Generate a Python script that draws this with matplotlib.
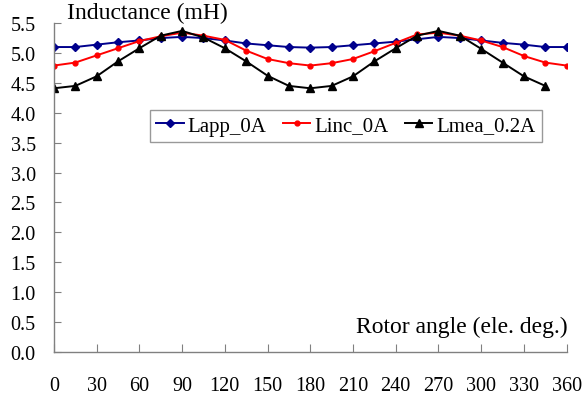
import numpy as np
import matplotlib
matplotlib.use("Agg")
import matplotlib.pyplot as plt

### data
angle = np.arange(0, 361, 15)
angle_mea = np.arange(0, 346, 15)

lapp_0A = [5.10, 5.10, 5.14, 5.18, 5.21, 5.25, 5.27, 5.25, 5.21, 5.16, 5.13, 5.10, 5.09,
           5.10, 5.13, 5.16, 5.19, 5.23, 5.27, 5.25, 5.21, 5.17, 5.14, 5.10, 5.10]
linc_0A = [4.79, 4.84, 4.96, 5.08, 5.20, 5.28, 5.34, 5.29, 5.22, 5.04, 4.90, 4.83, 4.79,
           4.83, 4.90, 5.03, 5.17, 5.31, 5.34, 5.29, 5.21, 5.10, 4.95, 4.84, 4.79]
lmea_02A = [4.41, 4.45, 4.61, 4.86, 5.08, 5.29, 5.37, 5.26, 5.08, 4.86, 4.62, 4.45, 4.41,
            4.45, 4.61, 4.86, 5.08, 5.29, 5.37, 5.29, 5.07, 4.84, 4.61, 4.45]

xticks = np.arange(0, 361, 30)
yticks = np.arange(0, 5.51, 0.5)

plt.rcParams['font.family'] = ['Liberation Serif', 'DejaVu Serif']

fig = plt.figure(figsize=(5.86, 4.02), dpi=100)
ax = fig.add_axes([0.092, 0.122, 0.875, 0.818])

ax.plot(angle, lapp_0A, color='#00008c', marker='D', markersize=4.2, lw=1.4, label='Lapp_0A')
ax.plot(angle, linc_0A, color='red', marker='o', markersize=3.5, lw=1.4, label='Linc_0A')
ax.plot(angle_mea, lmea_02A, color='black', marker='^', markersize=5.5, lw=1.4, label='Lmea_0.2A')

ax.set_xlim(0, 360)
ax.set_ylim(0, 5.5)
ax.set_xticks(xticks)
ax.set_yticks(yticks)
ax.set_yticklabels(['%.1f' % v for v in yticks])

for s in ['top', 'right']:
    ax.spines[s].set_visible(False)
for s in ['left', 'bottom']:
    ax.spines[s].set_color('#808080')
    ax.spines[s].set_linewidth(1.0)

ax.tick_params(axis='x', direction='in', length=6, color='#808080', labelsize=14.5, pad=17)
ax.tick_params(axis='y', direction='in', length=5, color='#808080', labelsize=14.5, pad=13)

leg = ax.legend(loc='center', bbox_to_anchor=(0.57, 0.688), ncol=3, fontsize=15,
                frameon=True, fancybox=False, handlelength=1.3, handletextpad=0.2,
                columnspacing=0.8, borderpad=0.3)
leg.get_frame().set_edgecolor('#808080')
leg.get_frame().set_linewidth(1.0)

fig.text(0.114, 0.967, 'Inductance (mH)', fontsize=17, ha='left', va='center')
fig.text(0.968, 0.185, 'Rotor angle (ele. deg.)', fontsize=17, ha='right', va='center')

plt.savefig('out.png', dpi=100)
